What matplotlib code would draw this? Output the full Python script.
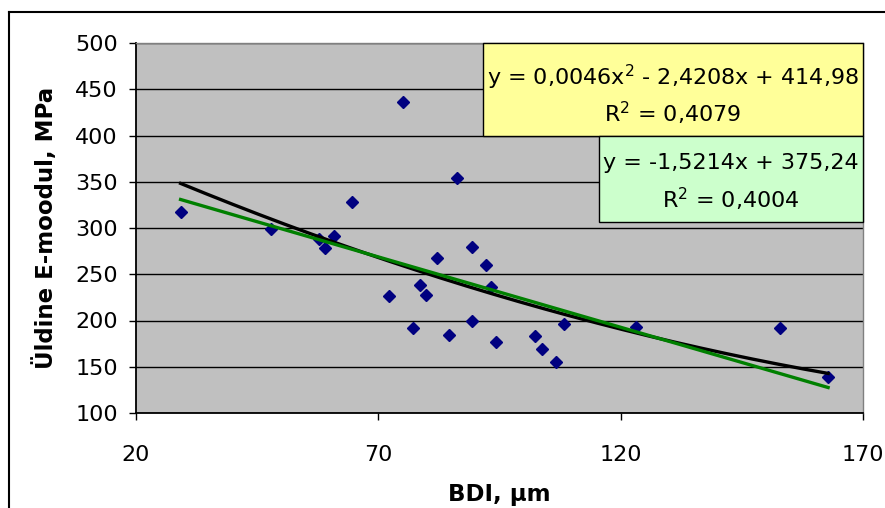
import numpy as np
import matplotlib.pyplot as plt
from matplotlib.patches import Rectangle
from matplotlib.lines import Line2D

plt.rcParams['font.family'] = ['DejaVu Sans']
plt.rcParams['mathtext.default'] = 'regular'

# mõõtmised: BDI (µm) ja üldine E-moodul (MPa)
bdi = [29.2, 47.9, 57.8, 59.0, 60.9, 64.6, 72.3, 75.0, 77.2, 78.5, 79.9, 82.2, 84.5,
       86.2, 89.4, 89.4, 92.3, 93.3, 94.3, 102.4, 103.7, 106.6, 108.4, 123.1, 152.9, 162.8]
e_mod = [317, 299, 288, 278, 291.5, 328, 226, 436.5, 192, 238, 228, 268, 184,
         354, 280, 200, 260, 236.5, 176.5, 183, 169.5, 155, 196, 192.5, 192, 138.5]

# trendijoonte koefitsiendid
poly2 = [0.0046, -2.4208, 414.98]
lin = [-1.5214, 375.24]
r2_poly = '0,4079'
r2_lin = '0,4004'

xticks = [20, 70, 120, 170]
yticks = [100, 150, 200, 250, 300, 350, 400, 450, 500]

fig = plt.figure(figsize=(8.85, 5.08), dpi=100)
ax = fig.add_axes([136/885, 1-413/508, 727/885, 370/508])
ax.set_facecolor('#C0C0C0')

x = np.array(bdi)
xs = np.linspace(x.min(), x.max(), 300)
ax.plot(x, e_mod, 'D', color='#000080', ms=6.5, zorder=3)
ax.plot(xs, np.polyval(poly2, xs), color='black', lw=2.4, zorder=4)
ax.plot(xs, np.polyval(lin, xs), color='#008000', lw=2.4, zorder=5)

ax.set_xlim(20, 170)
ax.set_ylim(100, 500)
ax.set_xticks(xticks)
ax.set_yticks(yticks)
ax.yaxis.grid(True, color='black', lw=1.0)
ax.set_axisbelow(True)
ax.tick_params(axis='both', labelsize=16, direction='out', length=5, width=1, color='black')
ax.tick_params(axis='y', pad=8)
ax.tick_params(axis='x', pad=18)
for s in ['left', 'bottom']:
    ax.spines[s].set_color('black')
    ax.spines[s].set_linewidth(1.3)
for s in ['top', 'right']:
    ax.spines[s].set_color('#808080')
    ax.spines[s].set_linewidth(1.0)

# võrrandite kastid
ax.add_patch(Rectangle((0.4773, 0.7486), 1-0.4773, 1-0.7486, transform=ax.transAxes,
                       facecolor='#FFFF99', edgecolor='black', lw=1, zorder=6, clip_on=False))
ax.add_patch(Rectangle((0.6369, 0.5162), 1-0.6369, 0.7486-0.5162, transform=ax.transAxes,
                       facecolor='#CCFFCC', edgecolor='black', lw=1, zorder=6, clip_on=False))
eq_poly = 'y = %sx$^2$ - %sx + %s' % (str(poly2[0]).replace('.', ','),
                                        str(-poly2[1]).replace('.', ','),
                                        str(poly2[2]).replace('.', ','))
eq_lin = 'y = %sx + %s' % (str(lin[0]).replace('.', ','), str(lin[1]).replace('.', ','))
ax.text(0.7386, 0.908, eq_poly, transform=ax.transAxes, ha='center', va='center',
        fontsize=16, zorder=7)
ax.text(0.7386, 0.811, 'R$^2$ = ' + r2_poly, transform=ax.transAxes, ha='center', va='center',
        fontsize=16, zorder=7)
ax.text(0.818, 0.676, eq_lin, transform=ax.transAxes, ha='center', va='center',
        fontsize=16, zorder=7)
ax.text(0.818, 0.576, 'R$^2$ = ' + r2_lin, transform=ax.transAxes, ha='center', va='center',
        fontsize=16, zorder=7)

fig.text(46/885, 1-228/508, 'Üldine E-moodul, MPa', rotation=90, ha='center', va='center',
         fontsize=16.5, fontweight='bold')
fig.text(499/885, 1-494/508, 'BDI, µm', ha='center', va='center',
         fontsize=16.5, fontweight='bold')

# diagrammi raam
fig.add_artist(Line2D([9/885, 9/885], [0, 1-12/508], color='black', lw=1.5))
fig.add_artist(Line2D([9/885, 1], [1-12/508, 1-12/508], color='black', lw=1.5))

fig.savefig('out.png', dpi=100)
